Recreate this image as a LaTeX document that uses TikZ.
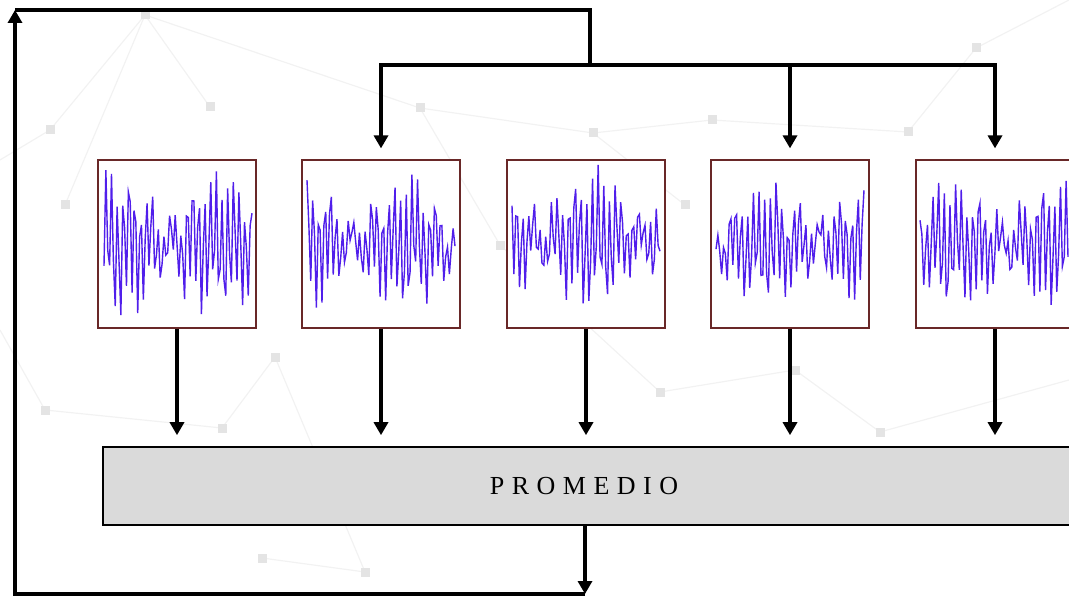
\documentclass[tikz,border=0pt]{standalone}
\usepackage{fontspec}
\setmainfont{Liberation Serif}
\usetikzlibrary{arrows.meta,calc}
\definecolor{boxred}{RGB}{105,40,40}
\definecolor{sigc}{RGB}{80,30,235}
\definecolor{promfill}{RGB}{218,218,218}
\definecolor{netline}{RGB}{242,242,242}
\definecolor{netdot}{RGB}{228,228,228}
\newcommand\sigplot[6]{%
  \pgfmathsetseed{#3}
  \draw[sig] plot[domain=-74:74,samples=80] ({#1+\x},{#2 + #6 + #5*(0.25+0.75*abs(sin(\x*1.8+#4)))*sin(\x*62+#4*3) + 0.25*#5*sin(\x*17+#4) + 7*rand});
}
\begin{document}
\begin{tikzpicture}[x=1pt,y=-1pt,
  sbox/.style={draw=boxred,line width=1.2pt,minimum width=158pt,minimum height=168pt,inner sep=0pt,fill=white},
  sig/.style={draw=sigc,line width=1.4pt,line join=miter},
  conn/.style={draw=black,line width=3.8pt},
  arr/.style={conn,-{Triangle[width=14pt,length=13pt]}},
  netl/.style={draw=netline,line width=1.2pt},
  netd/.style={fill=netdot,minimum size=9pt,inner sep=0pt}]
\path[use as bounding box] (0,0) rectangle (1069,599);
\clip (0,0) rectangle (1069,599);
% faint background network
\foreach \a/\b in {145/15, 50/130, 65/205, 210/107, 420/108, 593/133, 712/120, 908/132, 976/48, 685/205, 45/410, 222/428, 275/357, 660/392, 365/572, 262/558, 795/370, 500/245, 880/432, 0/330, 0/160, 1069/0, 1069/380}{
  \coordinate (n-\a-\b) at (\a,\b);}
\foreach \p/\q in {145-15/50-130, 145-15/210-107, 145-15/65-205, 145-15/420-108, 420-108/593-133, 593-133/712-120, 712-120/908-132, 908-132/976-48, 976-48/1069-0, 593-133/685-205, 420-108/500-245, 45-410/222-428, 222-428/275-357, 275-357/365-572, 262-558/365-572, 660-392/795-370, 795-370/880-432, 500-245/660-392, 45-410/0-330, 50-130/0-160, 880-432/1069-380}{
  \path[netl] (n-\p) -- (n-\q);}
\foreach \a/\b in {145/15, 50/130, 65/205, 210/107, 420/108, 593/133, 712/120, 908/132, 976/48, 685/205, 45/410, 222/428, 275/357, 660/392, 365/572, 262/558, 795/370, 500/245, 880/432}{
  \node[netd] at (\a,\b) {};}
% signal boxes
\node[sbox] (b1) at (177,244) {};
\node[sbox] (b2) at (381,244) {};
\node[sbox] (b3) at (586,244) {};
\node[sbox] (b4) at (790,244) {};
\node[sbox] (b5) at (995,244) {};
\sigplot{178}{244}{11}{20}{62}{0}
\sigplot{381}{244}{23}{50}{56}{0}
\sigplot{586}{244}{37}{80}{58}{-4}
\sigplot{790}{244}{41}{130}{52}{0}
\sigplot{994}{244}{53}{160}{56}{0}
% average box
\node[draw=black,line width=1.6pt,fill=promfill,minimum width=977pt,minimum height=78pt,inner sep=0pt] (p) at (591.5,486) {};
\node (ptext) at (584,486) {\fontsize{26}{26}\selectfont P\kern7.5pt R\kern7.5pt O\kern7.5pt M\kern7.5pt E\kern7.5pt D\kern7.5pt I\kern7.5pt O};
% arrows from boxes to average
\foreach \b in {b1,b2,b3,b4,b5}{
  \draw[arr,shorten >=11pt] (\b.south) -- (\b.south |- p.north);}
% feedback loop
\coordinate (pout) at (585,525);
\coordinate (fbend) at (585,594);
\coordinate (c1) at (15,594);
\coordinate (c2) at (15,10);
\coordinate (c3) at (590,10);
\coordinate (hub) at (590,65);
\draw[arr] (pout) -- (fbend);
\draw[arr] (fbend) -- (c1) -- (c2);
\draw[conn] (c2) -- (c3) -- (hub);
\draw[arr,shorten >=11pt] (hub) -| (b2.north);
\draw[arr,shorten >=11pt] (hub) -| (b4.north);
\draw[arr,shorten >=11pt] (hub) -| (b5.north);
\end{tikzpicture}
\end{document}
